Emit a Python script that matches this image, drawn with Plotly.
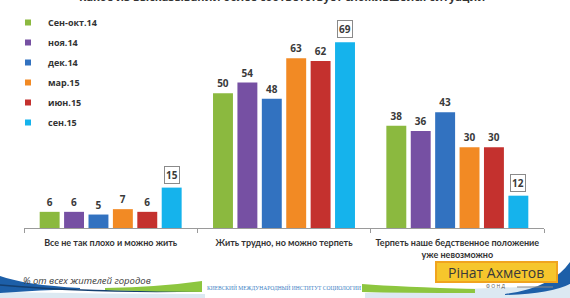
import plotly.graph_objects as go

W, H = 570, 298

categories = ["Все не так плохо и можно жить",
              "Жить трудно, но можно терпеть",
              "Терпеть наше бедственное положение<br>уже невозможно"]
series_names = ["Сен-окт.14", "ноя.14", "дек.14", "мар.15", "июн.15", "сен.15"]
series_values = [
    [6, 50, 38],
    [6, 54, 36],
    [5, 48, 43],
    [7, 63, 30],
    [6, 62, 30],
    [15, 69, 12],
]
colors = ["#8BB93F", "#7650A3", "#3272C0", "#F28A24", "#C4312E", "#15B3EC"]

title_text = "Какое из высказываний более соответствует сложившейся ситуации"
footnote_text = "% от всех жителей городов"
institute_text = "КИЕВСКИЙ МЕЖДУНАРОДНЫЙ ИНСТИТУТ СОЦИОЛОГИИ"
logo_text = "Рінат Ахметов"
logo_sub = "Ф О Н Д"

xs = list(range(len(categories)))
step = 0.1408
bw = 0.115

def px(x):
    return x / W

def py(y):
    return 1 - y / H

fig = go.Figure()
n = len(series_names)
annotations = []
for k, (name, vals, col) in enumerate(zip(series_names, series_values, colors)):
    center_off = (k - (n - 1) / 2) * step
    boxed = (k == n - 1)
    fig.add_trace(go.Bar(
        x=xs, y=vals, width=bw, offset=center_off - bw / 2,
        marker=dict(color=col, line=dict(width=0)),
        text=None if boxed else [str(v) for v in vals],
        textposition="outside", cliponaxis=False,
        textfont=dict(family="Open Sans", size=10, color="#3a3a3a", weight="bold"),
        showlegend=False, name=name,
    ))
    fig.add_trace(go.Scatter(
        x=[None], y=[None], mode="markers", name=name,
        marker=dict(symbol="square", size=6, color=col),
        legendgroup=name, showlegend=True,
    ))
    if boxed:
        for xi, v in zip(xs, vals):
            annotations.append(dict(
                x=xi + center_off, y=v, xref="x", yref="y", text=str(v),
                showarrow=False, yanchor="bottom", yshift=4,
                font=dict(family="Open Sans", size=10, color="#3a3a3a", weight="bold"),
                bordercolor="#8a8a8a", borderwidth=1, borderpad=1, bgcolor="white",
            ))

# title (cut at the top of the image, as in the reference)
annotations.append(dict(x=px(282), y=1, xref="paper", yref="paper", text=title_text,
                        showarrow=False, yanchor="middle", yshift=4,
                        font=dict(family="Open Sans", size=11, color="#333333", weight="bold")))
annotations.append(dict(x=px(21), y=py(280), xref="paper", yref="paper", text="<i>" + footnote_text + "</i>",
                        showarrow=False, xanchor="left", yanchor="middle",
                        font=dict(family="Open Sans", size=9.5, color="#3a3a3a")))
annotations.append(dict(x=px(284), y=py(287), xref="paper", yref="paper", text=institute_text,
                        showarrow=False, xanchor="center", yanchor="middle",
                        font=dict(family="Liberation Serif", size=5.5, color="#3C80C4")))
annotations.append(dict(x=px(496), y=py(272), xref="paper", yref="paper", text=logo_text,
                        showarrow=False, xanchor="center", yanchor="middle",
                        font=dict(family="Open Sans", size=14, color="#3a3a3a")))
annotations.append(dict(x=px(495), y=py(286), xref="paper", yref="paper", text=logo_sub,
                        showarrow=False, xanchor="center", yanchor="middle",
                        font=dict(family="Open Sans", size=5, color="#555555")))

def P(x, y):
    return f"{px(x):.4f},{py(y):.4f}"

shapes = []
# light wash under the decorations
shapes.append(dict(type="path", xref="paper", yref="paper", layer="below",
                   path=f"M{P(0,292)} Q{P(100,294)} {P(205,294)} L{P(205,298)} L{P(0,298)} Z",
                   fillcolor="#DCE9F2", line=dict(width=0)))
shapes.append(dict(type="path", xref="paper", yref="paper", layer="below",
                   path=f"M{P(365,293)} L{P(570,285)} L{P(570,298)} L{P(365,298)} Z",
                   fillcolor="#DCE9F2", line=dict(width=0)))
# left blue swoosh
shapes.append(dict(type="path", xref="paper", yref="paper", layer="below",
                   path=f"M{P(0,276)} Q{P(25,285)} {P(80,288)} L{P(80,289)} Q{P(40,290)} {P(0,293)} Z",
                   fillcolor="#1D5FA8", line=dict(width=0)))
shapes.append(dict(type="path", xref="paper", yref="paper", layer="below",
                   path=f"M{P(0,285)} Q{P(90,293)} {P(200,291)}",
                   line=dict(color="#143F70", width=1.5)))
# left green band
shapes.append(dict(type="path", xref="paper", yref="paper", layer="below",
                   path=f"M{P(105,288)} Q{P(160,287)} {P(202,281)} L{P(202,292)} Q{P(160,292)} {P(105,290)} Z",
                   fillcolor="#8DC63F", line=dict(width=0)))
# right green band
shapes.append(dict(type="path", xref="paper", yref="paper", layer="below",
                   path=f"M{P(362,284)} Q{P(400,287)} {P(475,289)} L{P(475,293)} Q{P(400,293)} {P(362,292)} Z",
                   fillcolor="#8DC63F", line=dict(width=0)))
# right blue swoosh
shapes.append(dict(type="path", xref="paper", yref="paper", layer="below",
                   path=f"M{P(505,294)} Q{P(552,288)} {P(570,262)} L{P(570,284)} Q{P(550,294)} {P(505,295)} Z",
                   fillcolor="#1D5FA8", line=dict(width=0)))
# logo box
shapes.append(dict(type="rect", xref="paper", yref="paper",
                   x0=px(436), x1=px(557), y0=py(282), y1=py(262),
                   fillcolor="#F6C62C", line=dict(color="#F0A41E", width=2)))
shapes.append(dict(type="line", xref="paper", yref="paper",
                   x0=px(517), x1=px(553), y0=py(287), y1=py(287),
                   line=dict(color="#8a8a8a", width=1)))

fig.update_layout(
    width=W, height=H,
    margin=dict(l=0, r=0, t=0, b=0, autoexpand=False),
    paper_bgcolor="white", plot_bgcolor="rgba(0,0,0,0)",
    barmode="overlay",
    showlegend=True,
    legend=dict(x=px(8), y=py(8), xanchor="left", yanchor="top",
                font=dict(family="Open Sans", size=9, color="#333333", weight="bold"),
                bgcolor="rgba(0,0,0,0)", tracegroupgap=1, traceorder="grouped",
                itemwidth=30),
    xaxis=dict(domain=[px(24), px(544)], range=[-0.5, 2.5],
               tickvals=xs, ticktext=categories, ticks="", tickangle=0, automargin=False,
               ticklabelstandoff=6,
               tickfont=dict(family="Lato", size=9, color="#333333", weight="bold"),
               showgrid=False, zeroline=False, showline=True, linecolor="#9a9a9a", linewidth=1,
               minor=dict(tickvals=[-0.5, 0.5, 1.5, 2.5], ticks="outside", ticklen=4,
                          tickcolor="#9a9a9a", showgrid=False),
               fixedrange=True),
    yaxis=dict(domain=[py(228), py(26)], range=[0, 75], visible=False, fixedrange=True,
               automargin=False),
    annotations=annotations,
    shapes=shapes,
)

fig.write_html("out.html")
